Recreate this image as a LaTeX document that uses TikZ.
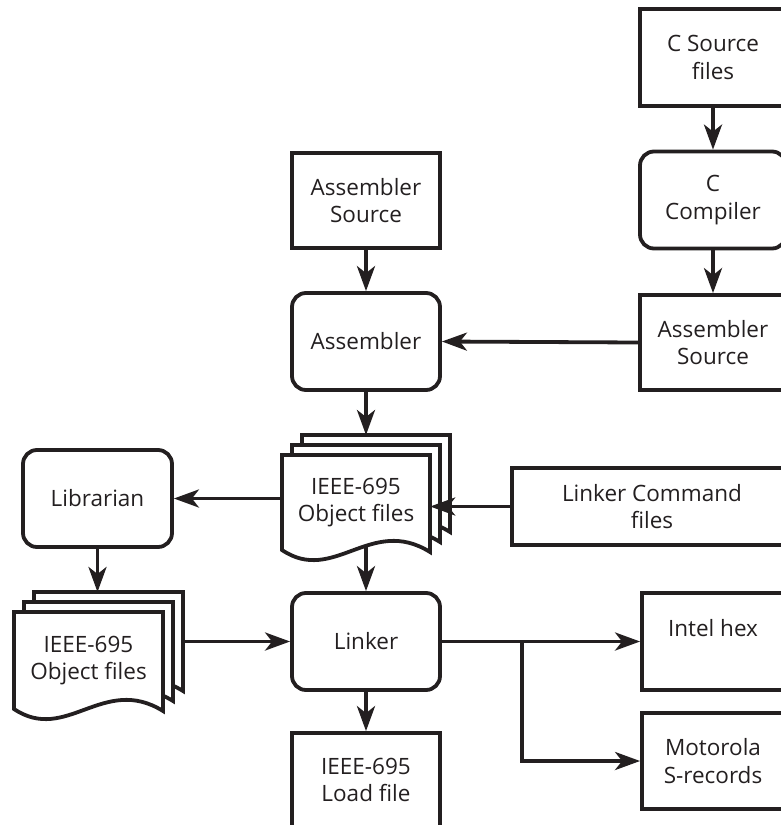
\documentclass[tikz,border=0pt]{standalone}
\usepackage{fontspec}
\setmainfont{Open Sans}
\usetikzlibrary{arrows.meta}
\definecolor{ink}{RGB}{35,31,32}
\newcommand{\docsheet}[4]{\path[sheet] (#1,#2) -- (#1,#2+#4) .. controls (#1+0.35*#3,#2+#4+35) and (#1+0.6*#3,#2+#4-35) .. (#1+#3,#2+#4+2) -- (#1+#3,#2) -- cycle;}
\begin{document}
\begin{tikzpicture}[x=1pt,y=-1pt,
  every node/.style={font=\fontsize{22.5}{27.5}\selectfont, text=ink, align=center, inner sep=0pt},
  box/.style={draw=ink, line width=3.8pt, minimum width=148pt, minimum height=96pt},
  rbox/.style={box, rounded corners=14pt},
  sheet/.style={draw=ink, fill=white, line width=3.8pt, line join=miter},
  arr/.style={draw=ink, line width=3.8pt, -{Stealth[length=25pt,width=18pt,inset=7pt]}},
  conn/.style={draw=ink, line width=3.8pt}]
\useasboundingbox (0,0) rectangle (781,825);
\clip (0,0) rectangle (781,825);

% stacked document sheets
\docsheet{302}{435}{148}{95}
\docsheet{292}{445}{148}{95}
\docsheet{282}{455}{148}{95}
\docsheet{34}{592}{149}{97}
\docsheet{24}{602}{149}{97}
\docsheet{14}{612}{149}{97}

% nodes
\node[box, minimum width=146pt, minimum height=97pt] (csrc) at (713,57.5) {C Source\\files};
\node[rbox, minimum width=146pt, minimum height=97pt] (ccomp) at (713,200) {C\\Compiler};
\node[box, minimum width=146pt, minimum height=95pt] (asmR) at (713,342.5) {Assembler\\Source};
\node[box, minimum height=95pt] (asmL) at (366,200.5) {Assembler\\Source};
\node[rbox, minimum height=97pt] (asm) at (366,341.5) {Assembler};
\node[rbox, minimum width=149pt, minimum height=97pt] (lib) at (97.5,498.5) {Librarian};
\node[box, minimum width=280pt, minimum height=77pt] (lcmd) at (652,506.5) {Linker Command\\files};
\node[minimum width=148pt, minimum height=95pt] (mobj) at (356,502.5) {IEEE-695\\Object files};
\node[minimum width=149pt, minimum height=97pt] (lobj) at (88.5,660.5) {IEEE-695\\Object files};
\node[rbox, minimum height=97pt] (linker) at (366,641.5) {Linker};
\node[box, minimum height=94pt] (load) at (366,780) {IEEE-695\\Load file};
\node[box, minimum width=142pt, minimum height=97pt] (intel) at (713,641.5) {Intel hex\\\phantom{S-records}};
\node[box, minimum width=142pt, minimum height=96pt] (moto) at (713,761) {Motorola\\S-records};

% connector end points on the sheet stacks
\coordinate (mtop) at (366,435);
\coordinate (mbot) at (366,546);
\coordinate (ltop) at (108,592);
\coordinate (lright) at (183,641.5);
\coordinate (br) at (522,641.5);

% connectors
\draw[arr] (csrc.south) -- (ccomp.north);
\draw[arr] (ccomp.south) -- (asmR.north);
\draw[arr] (asmR.west) -- (asm.east);
\draw[arr] (asmL.south) -- (asm.north);
\draw[arr] (asm.south) -- (mtop);
\draw[arr] (lib.east -| mobj.west) -- (lib.east);
\draw[arr] (lcmd.west) -- (lcmd.west -| mobj.east);
\draw[arr] (lib.south) -- (lib.south |- ltop);
\draw[arr] (lright) -- (linker.west);
\draw[arr] (mbot) -- (linker.north);
\draw[arr] (linker.south) -- (load.north);
\draw[arr] (linker.east) -- (intel.west);
\draw[arr] (br) |- (moto.west);
\end{tikzpicture}
\end{document}
